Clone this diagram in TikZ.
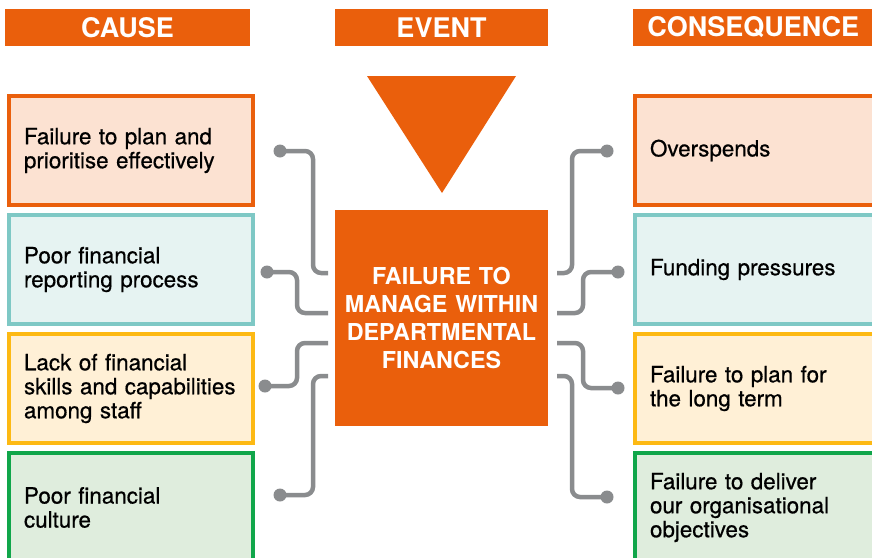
\documentclass[tikz,border=0pt]{standalone}
\usepackage{fontspec}
\setmainfont{TeX Gyre Heros}
\newfontfamily\bodyfont[FakeBold=0.6]{TeX Gyre Heros}
\usepackage{tikz}
\usetikzlibrary{arrows.meta}
\definecolor{mainorange}{RGB}{234,95,12}
\definecolor{linkgray}{RGB}{138,140,142}
\definecolor{peachfill}{RGB}{252,226,210}
\definecolor{tealline}{RGB}{126,200,197}
\definecolor{tealfill}{RGB}{230,243,242}
\definecolor{yellowline}{RGB}{253,185,19}
\definecolor{yellowfill}{RGB}{255,240,214}
\definecolor{greenline}{RGB}{16,166,74}
\definecolor{greenfill}{RGB}{223,237,221}

\begin{document}
\begin{tikzpicture}[
x=1pt,y=-1pt,
Header/.style={fill=mainorange,text=white,inner sep=0pt,minimum height=37pt,
  font=\fontsize{27}{30}\selectfont\bfseries},
Box/.style={line width=4pt,anchor=west,text width=214pt,inner xsep=15pt,
  minimum height=109pt,align=left,font=\bodyfont\fontsize{22.4}{24}\selectfont},
Event/.style={fill=mainorange,text=white,minimum width=213pt,minimum height=216pt,
  text width=205pt,align=center,inner sep=0pt,font=\fontsize{23.3}{28}\selectfont\bfseries},
Link/.style={draw=linkgray,line width=4.5pt,rounded corners=8pt},
Dot/.style={circle,fill=linkgray,minimum size=13pt,inner sep=0pt}
]
\useasboundingbox (0,0) rectangle (872,557);
\clip (0,0) rectangle (872,557);

% headers
\node[Header,minimum width=245pt] (cause) at (127.5,27.5) {CAUSE};
\node[Header,minimum width=213pt] (event) at (441.5,27.5) {EVENT};
\node[Header,minimum width=250pt,anchor=west] (conseq) at (633,27.5) {\hspace*{-10pt}CONSEQUENCE};

\fill[mainorange] (367,76) -- (516,76) -- (442,193) -- cycle;

% central event
\node[Event] (main) at (441.5,318) {FAILURE TO\\ MANAGE WITHIN\\ DEPARTMENTAL\\ FINANCES\\[14pt]};

% causes
\node[Box,draw=mainorange,fill=peachfill] (cA) at (7,150.5) {Failure to plan and\\ prioritise effectively};
\node[Box,draw=tealline,fill=tealfill] (cB) at (7,269.5) {Poor financial\\ reporting process};
\node[Box,draw=yellowline,fill=yellowfill] (cC) at (7,388.5) {Lack of financial\\ skills and capabilities\\ among staff};
\node[Box,draw=greenline,fill=greenfill] (cD) at (7,507.5) {Poor financial\\ culture};

% consequences
\node[Box,draw=mainorange,fill=peachfill] (qA) at (633,150.5) {Overspends};
\node[Box,draw=tealline,fill=tealfill] (qB) at (633,269.5) {Funding pressures};
\node[Box,draw=yellowline,fill=yellowfill] (qC) at (633,388.5) {Failure to plan for\\ the long term};
\node[Box,draw=greenline,fill=greenfill] (qD) at (633,507.5) {Failure to deliver\\ our organisational\\ objectives};

% connector ends next to the event box
\coordinate (e1) at (328,273);
\coordinate (e2) at (328,313);
\coordinate (e3) at (328,343);
\coordinate (e4) at (328,376);
\coordinate (f1) at (557,273);
\coordinate (f2) at (557,313);
\coordinate (f3) at (557,343);
\coordinate (f4) at (557,376);

\node[Dot] (c1) at (280,151) {};
\node[Dot] (c2) at (267,272) {};
\node[Dot] (c3) at (265,386) {};
\node[Dot] (c4) at (280,495) {};
\node[Dot] (d1) at (607,151) {};
\node[Dot] (d2) at (618,272) {};
\node[Dot] (d3) at (618,388) {};
\node[Dot] (d4) at (607,497) {};

\draw[Link] (c1.center) -| ([xshift=-15pt]e1) -- (e1);
\draw[Link] (c2.center) -| ([xshift=-31pt]e2) -- (e2);
\draw[Link] (c3.center) -| ([xshift=-31pt]e3) -- (e3);
\draw[Link] (c4.center) -| ([xshift=-15pt]e4) -- (e4);

\draw[Link] (f1) -- ([xshift=15pt]f1) |- (d1.center);
\draw[Link] (f2) -- ([xshift=26pt]f2) |- (d2.center);
\draw[Link] (f3) -- ([xshift=26pt]f3) |- (d3.center);
\draw[Link] (f4) -- ([xshift=15pt]f4) |- (d4.center);

\end{tikzpicture}
\end{document}
